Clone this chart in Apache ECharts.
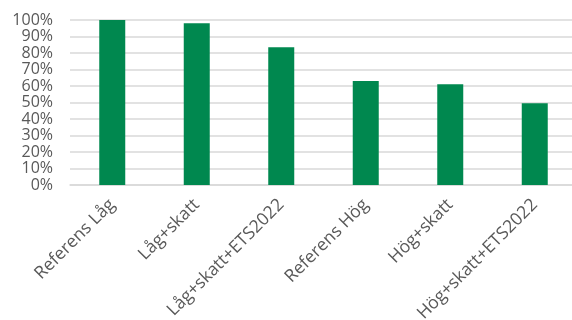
<!DOCTYPE html>
<html>
<head>
<meta charset="utf-8">
<script src="https://cdn.jsdelivr.net/npm/echarts@6/dist/echarts.min.js"></script>
<style>
  html, body { margin: 0; padding: 0; background: #fff; }
  #chart { width: 572px; height: 320px; }
</style>
</head>
<body>
<div id="chart"></div>
<script>
// scenario names and share values (percent)
const categories = ['Referens Låg', 'Låg+skatt', 'Låg+skatt+ETS2022', 'Referens Hög', 'Hög+skatt', 'Hög+skatt+ETS2022'];
const values = [100, 98, 83.5, 63, 61, 49.5];

const chart = echarts.init(document.getElementById('chart'));

const option = {
  animation: false,
  textStyle: { fontFamily: 'Open Sans, Liberation Sans, sans-serif' },
  grid: {
    left: 70,
    top: 20,
    width: 507,
    height: 165,
    containLabel: false,
    outerBoundsMode: 'none'
  },
  xAxis: {
    type: 'category',
    data: categories,
    axisTick: { show: false },
    axisLine: { lineStyle: { color: '#d9d9d9', width: 1.5 } },
    axisLabel: {
      rotate: 45,
      interval: 0,
      margin: 17,
      color: '#595959',
      fontSize: 17.5
    }
  },
  yAxis: {
    type: 'value',
    min: 0,
    max: 100,
    interval: 10,
    axisLine: { show: false },
    axisTick: { show: false },
    splitLine: { lineStyle: { color: '#d9d9d9', width: 1.5 } },
    axisLabel: {
      margin: 17,
      color: '#595959',
      fontSize: 16,
      lineHeight: 16,
      showMinLabel: true,
      showMaxLabel: true,
      hideOverlap: false,
      formatter: '{value}%'
    }
  },
  series: [
    {
      type: 'bar',
      data: values,
      barWidth: 26,
      itemStyle: { color: '#00884F' }
    }
  ]
};

chart.setOption(option);
</script>
</body>
</html>
